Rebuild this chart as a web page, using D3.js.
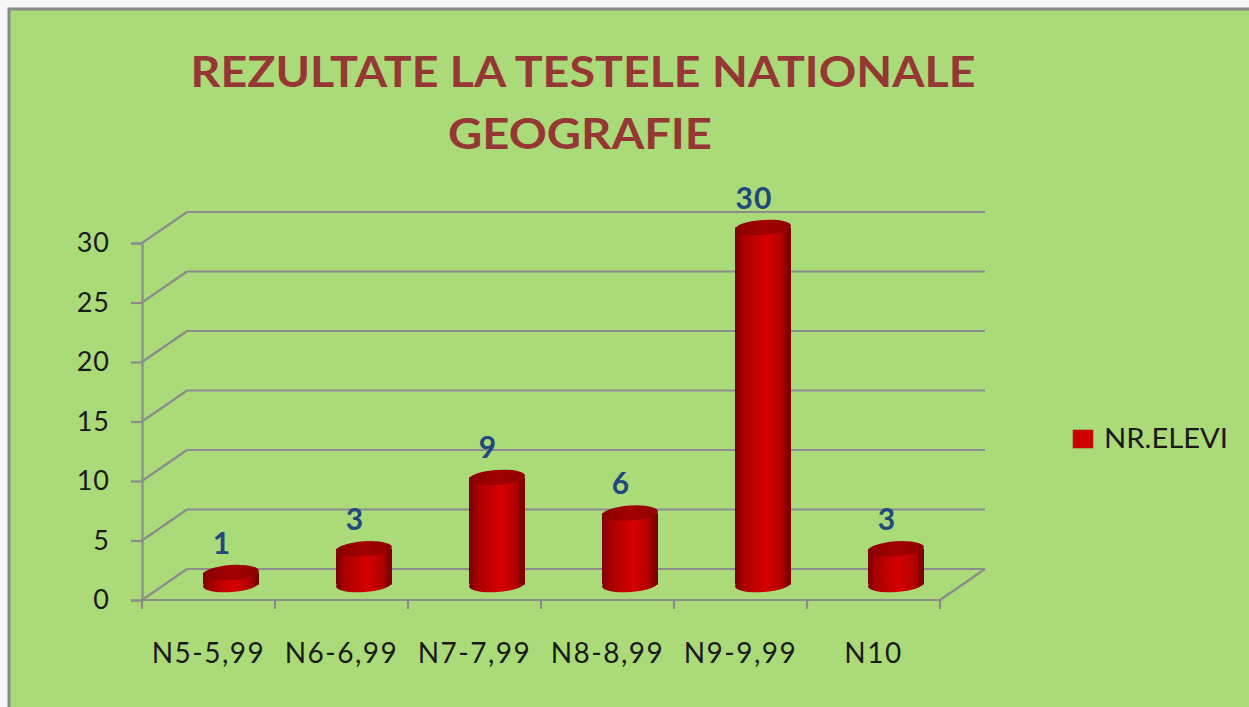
<!DOCTYPE html>
<html>
<head>
<meta charset="utf-8">
<script src="https://cdn.jsdelivr.net/npm/d3@7"></script>
<style>
  body { margin: 0; background: #f6f6f6; }
  svg { display: block; }
</style>
</head>
<body>
<div id="chart"></div>
<script>
const categories = ["N5-5,99", "N6-6,99", "N7-7,99", "N8-8,99", "N9-9,99", "N10"];
const values = [1, 3, 9, 6, 30, 3];
const yTicks = [0, 5, 10, 15, 20, 25, 30];
const seriesName = "NR.ELEVI";
const titleLines = ["REZULTATE LA TESTELE NATIONALE", "GEOGRAFIE"];

const W = 1249, H = 707;
const depth = { dx: 45, dy: -31 };   // 3d offset of back wall
const grid = "#8c8c8c";
const font = "Lato, 'Open Sans', sans-serif";

const svg = d3.select("#chart").append("svg")
    .attr("width", W).attr("height", H);

// chart area
svg.append("rect")
    .attr("x", 9).attr("y", 9)
    .attr("width", W).attr("height", H)
    .attr("fill", "#abdb79")
    .attr("stroke", "#8a8a8a")
    .attr("stroke-width", 3);

// title
const title = svg.append("g")
    .attr("font-family", font)
    .attr("font-weight", "bold")
    .attr("fill", "#953735")
    .attr("text-anchor", "middle");
title.append("text").attr("x", 583).attr("y", 87)
    .attr("font-size", 42)
    .attr("textLength", 785).attr("lengthAdjust", "spacingAndGlyphs")
    .text(titleLines[0]);
title.append("text").attr("x", 580).attr("y", 149)
    .attr("font-size", 42)
    .attr("textLength", 264).attr("lengthAdjust", "spacingAndGlyphs")
    .text(titleLines[1]);

const x = d3.scaleBand().domain(categories).range([142, 940]).padding(0);
const y = d3.scaleLinear().domain([0, 30]).range([600, 243]);

const g = svg.append("g");

// back wall gridlines + side diagonals
yTicks.forEach(t => {
    g.append("line")
        .attr("x1", x.range()[0] + depth.dx).attr("x2", x.range()[1] + depth.dx)
        .attr("y1", y(t) + depth.dy).attr("y2", y(t) + depth.dy)
        .attr("stroke", grid).attr("stroke-width", 2.2);
    g.append("line")
        .attr("x1", x.range()[0]).attr("x2", x.range()[0] + depth.dx)
        .attr("y1", y(t)).attr("y2", y(t) + depth.dy)
        .attr("stroke", grid).attr("stroke-width", 2.2);
});
// floor right edge
g.append("line")
    .attr("x1", x.range()[1]).attr("x2", x.range()[1] + depth.dx)
    .attr("y1", y(0)).attr("y2", y(0) + depth.dy)
    .attr("stroke", grid).attr("stroke-width", 2.2);

// y axis (front)
const yAxis = g.append("g")
    .attr("transform", `translate(${x.range()[0]},0)`)
    .call(d3.axisLeft(y).tickValues(yTicks).tickSize(11).tickPadding(21));
yAxis.selectAll("path, line").attr("stroke", grid).attr("stroke-width", 2.2);
yAxis.selectAll("text")
    .attr("font-family", font).attr("letter-spacing", 1)
    .attr("font-size", 27).attr("fill", "#1a1a1a");

// x axis (front): line, ticks at band edges, labels at centres
g.append("line")
    .attr("x1", x.range()[0]).attr("x2", x.range()[1])
    .attr("y1", y(0)).attr("y2", y(0))
    .attr("stroke", grid).attr("stroke-width", 2.2);
const edges = categories.map(c => x(c)).concat([x.range()[1]]);
g.selectAll(".xtick").data(edges).enter().append("line")
    .attr("x1", d => d).attr("x2", d => d)
    .attr("y1", y(0)).attr("y2", y(0) + 9)
    .attr("stroke", grid).attr("stroke-width", 2.2);
const xAxis = g.append("g")
    .attr("transform", `translate(0,${y(0)})`)
    .call(d3.axisBottom(x).tickSize(0).tickPadding(43));
xAxis.select(".domain").remove();
xAxis.selectAll("text")
    .attr("font-family", font).attr("letter-spacing", 1.5)
    .attr("font-size", 28).attr("fill", "#1a1a1a");

// cylinder gradients
const defs = svg.append("defs");
const sideGrad = defs.append("linearGradient").attr("id", "cylSide");
[[0, "#780000"], [0.15, "#a80000"], [0.55, "#d60000"], [0.82, "#b40000"], [1, "#6e0000"]]
    .forEach(([o, c]) => sideGrad.append("stop").attr("offset", o).attr("stop-color", c));
const topGrad = defs.append("linearGradient").attr("id", "cylTop");
[[0, "#880000"], [0.5, "#a30000"], [1, "#8e0000"]]
    .forEach(([o, c]) => topGrad.append("stop").attr("offset", o).attr("stop-color", c));

const rx = 28, ry = 7.5, tilt = -4;
const bars = g.selectAll(".bar").data(categories.map((c, i) => ({ c, v: values[i] })))
    .enter().append("g").attr("class", "bar");

bars.each(function(d) {
    const cx = x(d.c) + x.bandwidth() / 2 + depth.dx / 2;
    const yb = y(0) + depth.dy / 2;
    const yt = y(d.v) + depth.dy / 2;
    const b = d3.select(this);
    // bottom cap, body, top cap
    b.append("ellipse")
        .attr("cx", cx).attr("cy", yb).attr("rx", rx).attr("ry", ry)
        .attr("fill", "url(#cylSide)")
        .attr("transform", `rotate(${tilt},${cx},${yb})`);
    b.append("rect")
        .attr("x", cx - rx).attr("y", yt).attr("width", 2 * rx).attr("height", yb - yt)
        .attr("fill", "url(#cylSide)");
    b.append("ellipse")
        .attr("cx", cx).attr("cy", yt).attr("rx", rx).attr("ry", ry)
        .attr("fill", "url(#cylTop)")
        .attr("transform", `rotate(${tilt},${cx},${yt})`);
    b.append("text")
        .attr("x", cx - 9).attr("y", yt - 19)
        .attr("text-anchor", "middle")
        .attr("font-family", font).attr("letter-spacing", 1)
        .attr("font-weight", "bold").attr("font-size", 30)
        .attr("fill", "#1f497d")
        .text(d.v);
});

// legend
const lg = svg.append("g").attr("transform", "translate(1073,430)");
lg.append("rect").attr("width", 20).attr("height", 18)
    .attr("fill", "#cc0000").attr("stroke", "#b02020").attr("stroke-width", 0.6);
lg.append("text").attr("x", 31).attr("y", 18)
    .attr("font-family", font)
    .attr("font-size", 27).attr("fill", "#1a1a1a")
    .attr("textLength", 124).attr("lengthAdjust", "spacingAndGlyphs")
    .text(seriesName);
</script>
</body>
</html>
